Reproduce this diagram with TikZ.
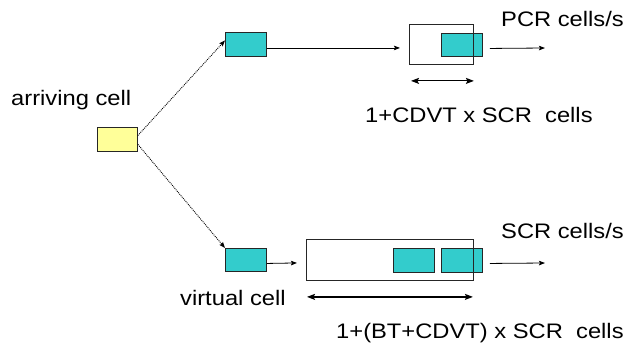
\documentclass[tikz,border=0pt]{standalone}
\usepackage{fontspec}
\setmainfont[FakeStretch=1.13]{Liberation Sans}
\usetikzlibrary{arrows.meta}
\definecolor{cellteal}{HTML}{33CCCC}
\definecolor{cellyellow}{HTML}{FFFF99}

\begin{document}
\begin{tikzpicture}[x=1pt,y=-1pt,
  box/.style={draw=black!85, line width=0.9pt, inner sep=0pt, anchor=north west},
  cell/.style={box, fill=cellteal, minimum width=41pt, minimum height=24pt},
  buffer/.style={box, fill=none},
  lbl/.style={anchor=base west, inner sep=0pt, font=\fontsize{21}{25}\selectfont},
  flow/.style={line width=0.8pt, -{Stealth[length=6pt,width=4.5pt,inset=1pt]}},
  span/.style={line width=1.2pt, {Stealth[length=8pt,width=6pt,inset=1.5pt]}-{Stealth[length=8pt,width=6pt,inset=1.5pt]}},
  split/.style={line width=0.9pt, densely dotted, -{Stealth[length=6pt,width=4.5pt,inset=1pt]}}]
\useasboundingbox (0,0) rectangle (627,350);

% arriving cell
\node[box, fill=cellyellow, minimum width=40pt, minimum height=24pt] (yel) at (97,127) {};
\node[lbl] (larr) at (11,106) {arriving cell};

% peak-rate branch
\node[cell] (tA) at (225,32) {};
\node[cell, minimum height=23pt] (inA) at (441,33) {};
\node[buffer, minimum width=64pt, minimum height=40pt] (qA) at (409,24) {};
\coordinate (outA) at (545,48);
\node[lbl] (lpcr) at (501,27) {PCR cells/s};
\node[lbl] (lcdvt) at (365,123) {1+CDVT x SCR\ \ cells};

% sustained-rate branch
\node[cell, minimum height=23pt] (tB) at (225,248) {};
\node[cell] (inB1) at (393,248) {};
\node[cell] (inB2) at (441,248) {};
\node[buffer, minimum width=167pt, minimum height=41pt] (qB) at (306,239) {};
\coordinate (outB) at (545,263);
\node[lbl] (lscr) at (501,239) {SCR cells/s};
\node[lbl] (lvirt) at (180,305) {virtual cell};
\node[lbl] (lbt) at (336,338) {1+(BT+CDVT) x SCR\ \ cells};

% splitting of the arriving cell
\draw[split] ([yshift=4pt]yel.east) -- ([yshift=4pt]tA.west);
\draw[split] ([yshift=-5pt]yel.east) -- (tB.north west);

% flows into and out of the buffers
\draw[flow] ([yshift=-3.5pt]tA.east) -- ([xshift=-9pt,yshift=-3.5pt]qA.west);
\draw[flow] ([xshift=7pt,yshift=-3.5pt]inA.east) -- (outA);
\draw[flow] ([yshift=-3.5pt]tB.east) -- ([xshift=-9pt,yshift=-3pt]qB.west);
\draw[flow] ([xshift=7pt,yshift=-3pt]inB2.east) -- (outB);

% buffer sizes
\draw[span] ([xshift=2pt,yshift=-16pt]qA.south west) -- ([yshift=-16pt]qA.south east);
\draw[span] ([xshift=1pt,yshift=-16pt]qB.south west) -- ([xshift=-1pt,yshift=-16pt]qB.south east);
\end{tikzpicture}
\end{document}
